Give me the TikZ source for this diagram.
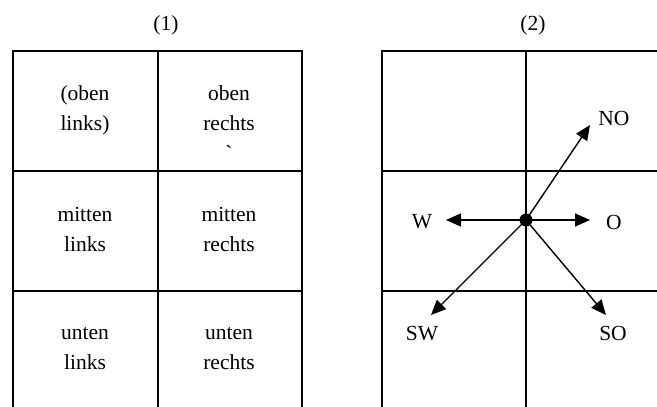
\documentclass[tikz,border=0pt]{standalone}
\usepackage{fontspec}
\setmainfont{Liberation Serif}
\usetikzlibrary{arrows.meta}
\begin{document}
\begin{tikzpicture}[x=1pt,y=-1pt,
  grid/.style={line width=1.9pt, line cap=rect},
  lbl/.style={font=\fontsize{21.5}{30}\selectfont, inner sep=0pt, align=center,
    execute at begin node=\strut, execute at end node=\strut},
  vec/.style={line width=1.4pt, -{Triangle[length=15pt,width=13pt]}}]
\useasboundingbox (0,0) rectangle (657,407);
% grid (1)
\draw[grid] (13,409) -- (13,51) -- (302,51) -- (302,409);
\draw[grid] (158,51) -- (158,409);
\draw[grid] (13,171) -- (302,171);
\draw[grid] (13,291) -- (302,291);
% grid (2)
\draw[grid] (382,409) -- (382,51) -- (660,51);
\draw[grid] (526,51) -- (526,409);
\draw[grid] (382,171) -- (660,171);
\draw[grid] (382,291) -- (660,291);
% titles
\node[lbl] (t1) at (166,24) {(1)};
\node[lbl] (t2) at (533,24) {(2)};
% cells
\node[lbl] (ol) at (85,113) {(oben\\links)};
\node[lbl] (or) at (229,113) {oben\\rechts};
\node[lbl] (acc) at (229,154) {\textasciigrave};
\node[lbl] (ml) at (85,234) {mitten\\links};
\node[lbl] (mr) at (229,234) {mitten\\rechts};
\node[lbl] (ul) at (85,353) {unten\\links};
\node[lbl] (ur) at (229,353) {unten\\rechts};
% compass
\node[circle, fill=black, minimum size=13pt, inner sep=0pt] (c) at (526,220) {};
\coordinate (pNO) at (590,125);
\coordinate (pW) at (446,220);
\coordinate (pO) at (590,220);
\coordinate (pSW) at (431,315);
\coordinate (pSO) at (606,315);
\draw[vec] (c.center) -- (pNO);
\draw[vec] (c.center) -- (pW);
\draw[vec] (c.center) -- (pO);
\draw[vec] (c.center) -- (pSW);
\draw[vec] (c.center) -- (pSO);
\node[lbl] (lNO) at (614,119) {NO};
\node[lbl] (lW) at (422,222) {W};
\node[lbl] (lO) at (614,223) {O};
\node[lbl] (lSW) at (422,334) {SW};
\node[lbl] (lSO) at (613,334) {SO};
\end{tikzpicture}
\end{document}
